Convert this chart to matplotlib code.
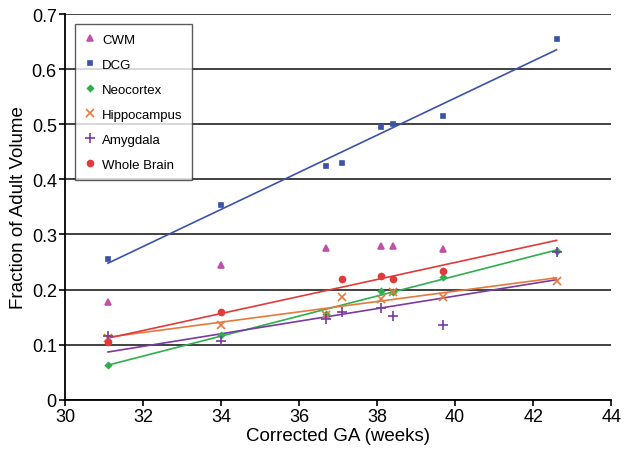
import numpy as np
import matplotlib
matplotlib.use("Agg")
import matplotlib.pyplot as plt

plt.rcParams['font.family'] = ['Liberation Sans', 'DejaVu Sans']

# gestational age of each scan (weeks)
ga = [31.1, 34.0, 36.7, 37.1, 38.1, 38.4, 39.7, 42.6]

# fraction of adult volume, None where no point is shown
cwm = [0.178, 0.245, 0.276, None, 0.280, 0.280, 0.274, None]
dcg = [0.256, 0.354, 0.425, 0.430, 0.495, 0.500, 0.515, 0.655]
neocortex = [0.063, 0.118, 0.155, None, 0.197, 0.195, 0.222, 0.270]
hippocampus = [0.112, 0.135, 0.154, 0.187, 0.183, 0.195, 0.187, 0.215]
amygdala = [0.115, 0.107, 0.147, 0.160, 0.167, 0.152, 0.135, 0.269]
whole_brain = [0.105, 0.160, None, 0.220, 0.224, 0.219, 0.234, None]

series = [
    ("CWM", cwm, "#c050a8", "^", False),
    ("DCG", dcg, "#3a52a8", "s", True),
    ("Neocortex", neocortex, "#2fae50", "D", True),
    ("Hippocampus", hippocampus, "#e8783a", "x", True),
    ("Amygdala", amygdala, "#7a3aa0", "+", True),
    ("Whole Brain", whole_brain, "#e03a3a", "o", True),
]
sizes = {"^": 4.5, "s": 3.3, "D": 3.0, "x": 5.5, "+": 7, "o": 4.3}

fig = plt.figure(figsize=(6.32, 4.56), dpi=100)
ax = fig.add_axes([0.103, 0.121, 0.864, 0.846])

xs_fit = np.array([min(ga), max(ga)])
for name, vals, col, mk, fit in series:
    x = np.array([g for g, v in zip(ga, vals) if v is not None])
    y = np.array([v for v in vals if v is not None])
    ax.plot(x, y, linestyle="none", marker=mk, color=col, markersize=sizes[mk],
            markeredgewidth=1.2, label=name, zorder=3)
    if fit:
        # linear trendline
        k, b = np.polyfit(x, y, 1)
        ax.plot(xs_fit, k * xs_fit + b, color=col, linewidth=1.2, zorder=2)

ax.set_xlim(30, 44)
ax.set_ylim(0, 0.7)
ax.set_xticks(np.arange(30, 45, 2))
ax.set_yticks(np.arange(0, 0.71, 0.1))
ax.set_yticklabels(["0", "0.1", "0.2", "0.3", "0.4", "0.5", "0.6", "0.7"])
ax.yaxis.grid(True, color="#333333", linewidth=1.3)
ax.set_axisbelow(True)
ax.spines['top'].set_visible(False)
ax.spines['right'].set_visible(False)
ax.spines['left'].set_linewidth(1.3)
ax.spines['bottom'].set_linewidth(1.3)
ax.tick_params(labelsize=13, direction="out", length=4, width=1.2, pad=2)

ax.set_xlabel("Corrected GA (weeks)", fontsize=13.5, labelpad=1)
ax.set_ylabel("Fraction of Adult Volume", fontsize=13.5, labelpad=3)

leg = ax.legend(loc="upper left", bbox_to_anchor=(0.018, 0.974), fontsize=9.5,
                frameon=True, fancybox=False, edgecolor="#333333",
                handlelength=0.9, labelspacing=0.97, borderpad=0.7,
                handletextpad=0.45, borderaxespad=0)
leg.get_frame().set_linewidth(1.0)

fig.savefig("out.png", dpi=100)
